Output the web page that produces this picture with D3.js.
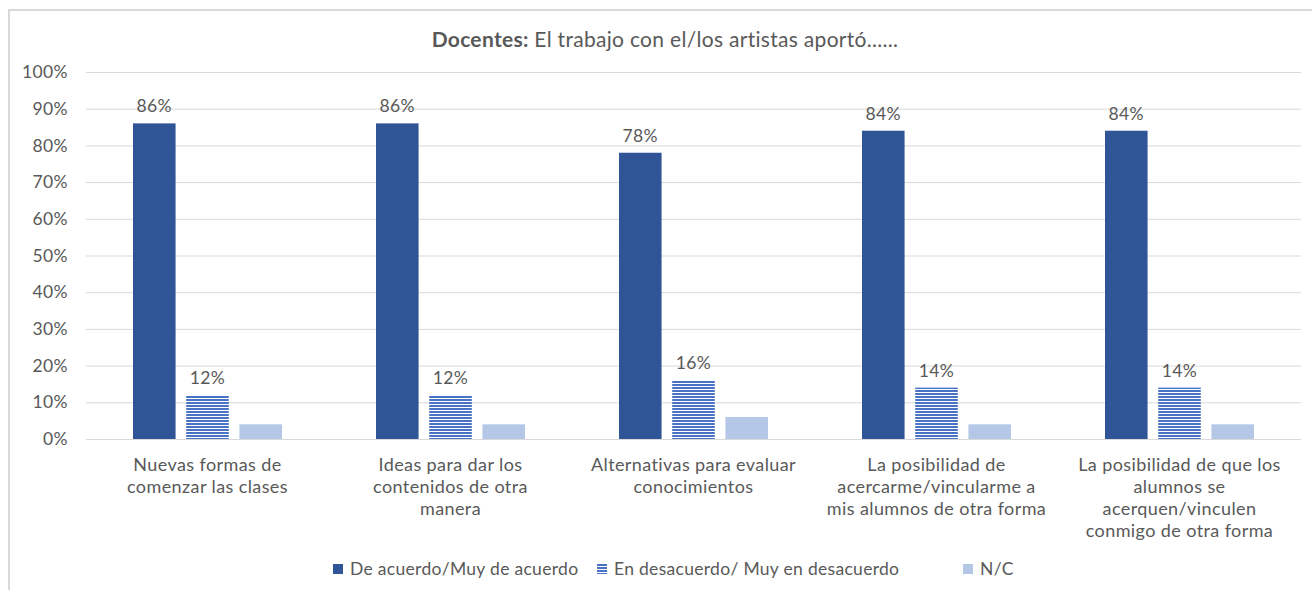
<!DOCTYPE html>
<html><head><meta charset="utf-8">
<script src="https://cdn.jsdelivr.net/npm/d3@7"></script>
<style>
body{margin:0;background:#fff;}
svg{display:block;font-family:Lato,"Open Sans",sans-serif;}
</style></head>
<body><svg id="c" width="1312" height="590"></svg>
<script>
const categories = [
  ["Nuevas formas de","comenzar las clases"],
  ["Ideas para dar los","contenidos de otra","manera"],
  ["Alternativas para evaluar","conocimientos"],
  ["La posibilidad de","acercarme/vincularme a","mis alumnos de otra forma"],
  ["La posibilidad de que los","alumnos se","acerquen/vinculen","conmigo de otra forma"]
];
const seriesNames = ["De acuerdo/Muy de acuerdo","En desacuerdo/ Muy en desacuerdo","N/C"];
const deAcuerdo = [86,86,78,84,84];
const enDesacuerdo = [12,12,16,14,14];
const nc = [4,4,6,4,4];
const yTicks = [0,10,20,30,40,50,60,70,80,90,100];
const showLabels = [true,true,false];

const svg = d3.select("#c");
const txt = "#595959";
const defs = svg.append("defs");
const pat = defs.append("pattern").attr("id","stripe").attr("patternUnits","userSpaceOnUse")
  .attr("width",6).attr("height",3);
pat.append("rect").attr("width",6).attr("height",3).attr("fill","#fff");
pat.append("rect").attr("width",6).attr("height",2).attr("y",0).attr("fill","#4A72C4");

// chart border
svg.append("rect").attr("x",9).attr("y",10).attr("width",1320).attr("height",600)
  .attr("fill","none").attr("stroke","#d9d9d9").attr("stroke-width",2);

const m = {l:86, r:1301, t:72, b:439};
const x0 = d3.scaleBand().domain(d3.range(categories.length)).range([m.l,m.r]).paddingInner(0).paddingOuter(0);
const x1 = d3.scaleBand().domain([0,1,2]).range([0,149]).paddingInner(0.2);
const y = d3.scaleLinear().domain([0,100]).range([m.b,m.t]);

// title
const title = svg.append("text").attr("x",665).attr("y",47).attr("text-anchor","middle")
  .attr("font-size",21).attr("letter-spacing",0.3).attr("fill",txt);
title.append("tspan").attr("font-weight","bold").text("Docentes:");
title.append("tspan").text(" El trabajo con el/los artistas aportó......");

// grid
const yAxis = d3.axisLeft(y).tickValues(yTicks).tickFormat(d=>d+"%").tickSize(-(m.r-m.l)).tickPadding(18);
const ga = svg.append("g").attr("transform",`translate(${m.l},0)`).call(yAxis);
ga.select(".domain").remove();
ga.selectAll(".tick line").attr("stroke","#d9d9d9").attr("stroke-width",1);
ga.selectAll(".tick text").attr("fill",txt).attr("font-size",17.5).attr("letter-spacing",0.4).attr("font-family","Lato");

const series = [deAcuerdo, enDesacuerdo, nc];
const fills = ["#2F5597","url(#stripe)","#B4C7E7"];
series.forEach((vals,si)=>{
  const g = svg.append("g");
  g.selectAll("rect").data(vals).enter().append("rect")
    .attr("x",(d,i)=>x0(i)+(x0.bandwidth()-149)/2+x1(si))
    .attr("width",x1.bandwidth())
    .attr("y",d=>y(d)).attr("height",d=>y(0)-y(d))
    .attr("fill",fills[si]);
  if(showLabels[si]){
    g.selectAll("text").data(vals).enter().append("text")
      .attr("x",(d,i)=>x0(i)+(x0.bandwidth()-149)/2+x1(si)+x1.bandwidth()/2)
      .attr("y",d=>y(d)-11).attr("text-anchor","middle")
      .attr("font-size",17.5).attr("letter-spacing",0.4).attr("fill",txt).text(d=>d+"%");
  }
});

// category labels
const cl = svg.append("g");
categories.forEach((lines,i)=>{
  const t = cl.append("text").attr("text-anchor","middle").attr("font-size",18)
    .attr("letter-spacing",0.4).attr("fill",txt);
  lines.forEach((ln,j)=>{
    t.append("tspan").attr("x",x0(i)+x0.bandwidth()/2).attr("y",471+j*22).text(ln);
  });
});

// legend
const legX = [333,597,963];
const lg = svg.append("g");
seriesNames.forEach((n,i)=>{
  lg.append("rect").attr("x",legX[i]).attr("y",564).attr("width",10).attr("height",10).attr("fill",fills[i]);
  lg.append("text").attr("x",legX[i]+17).attr("y",575).attr("font-size",17.5)
    .attr("letter-spacing",0.3).attr("fill",txt).text(n);
});
</script></body></html>
